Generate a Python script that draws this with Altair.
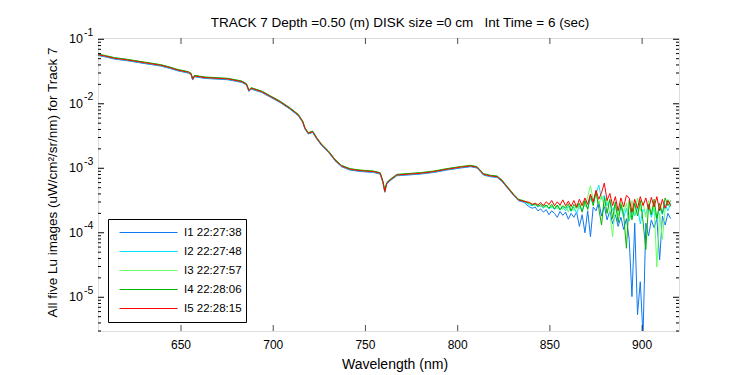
import altair as alt
import pandas as pd

# ---------------- data (log10 of radiance) ----------------
names = ["I1 22:27:38", "I2 22:27:48", "I3 22:27:57", "I4 22:28:06", "I5 22:28:15"]
colors = ["#0f78f0", "#00e5ff", "#66ff66", "#00b400", "#ff0000"]

# shared smooth part of the spectrum (605-836 nm)
smooth_wl = [605, 609, 614, 621, 630, 639, 644, 648, 654, 655.5, 656.3, 657.3, 663, 670,
             675.6, 683, 685.5, 686.8, 688, 693.7, 698, 703.6, 709, 713.6, 716, 717.2, 719,
             721.4, 723.6, 726.3, 730, 733.5, 737, 741.7, 747, 754.4, 758, 759.5, 760.5,
             761.5, 763.4, 767, 772.5, 779.7, 787, 794, 801.5, 807, 810.5, 814, 817.8,
             821.4, 824, 826.8, 830.4, 833, 836]
smooth_log = [-1.239, -1.262, -1.295, -1.321, -1.363, -1.403, -1.440, -1.476, -1.512, -1.538,
              -1.620, -1.569, -1.595, -1.606, -1.616, -1.657, -1.698, -1.797, -1.760, -1.812,
              -1.879, -1.967, -2.070, -2.174, -2.278, -2.380, -2.457, -2.433, -2.535, -2.639,
              -2.743, -2.871, -2.964, -3.016, -3.037, -3.053, -3.078, -3.212, -3.360, -3.233,
              -3.181, -3.104, -3.093, -3.078, -3.053, -3.016, -2.984, -2.964, -2.984, -3.093,
              -3.119, -3.130, -3.192, -3.290, -3.414, -3.491, -3.515]
smooth_offset = [-0.012, -0.005, 0.006, 0.010, 0.0]

# noisy part (837.5-915.5 nm), one list per image
noisy_wl = [837.5, 839, 840.5, 842, 843.5, 845, 846.5, 848, 849.5, 851, 852.5, 854, 855.5,
            857, 858.5, 860, 861.5, 863, 864.5, 866, 867.5, 869, 870.5, 872, 873.5, 875,
            876.5, 878, 879.5, 881, 882.5, 884, 885.5, 887, 888.5, 890, 891.5, 893, 894.5,
            896, 897.5, 899, 900.5, 902, 903.5, 905, 906.5, 908, 909.5, 911, 912.5, 914, 915.5]
noisy_I1 = [-3.57, -3.60, -3.62, -3.60, -3.66, -3.63, -3.68, -3.64, -3.72, -3.66, -3.70, -3.76,
            -3.67, -3.73, -3.68, -3.79, -3.70, -3.76, -3.68, -3.90, -3.72, -4.00, -3.66, -4.06,
            -3.60, -3.66, -3.52, -3.74, -3.58, -3.80, -3.66, -3.86, -3.72, -3.90, -3.76, -3.95,
            -3.78, -4.10, -4.99, -3.85, -5.27, -4.76, -5.60, -3.85, -4.05, -3.80, -3.92, -3.78,
            -4.42, -3.74, -3.88, -3.70, -3.78]
noisy_I2 = [-3.54, -3.57, -3.58, -3.56, -3.60, -3.58, -3.62, -3.57, -3.63, -3.59, -3.64, -3.58,
            -3.65, -3.60, -3.66, -3.59, -3.67, -3.60, -3.70, -3.58, -3.66, -3.55, -3.62, -3.47,
            -3.55, -3.40, -3.26, -3.48, -3.42, -3.58, -3.50, -3.66, -3.56, -3.72, -3.60, -3.76,
            -3.62, -3.82, -3.66, -3.74, -3.60, -3.86, -3.64, -3.70, -3.58, -3.76, -3.62, -3.80,
            -3.60, -3.72, -3.56, -3.66, -3.54]
noisy_I3 = [-3.52, -3.55, -3.54, -3.58, -3.55, -3.60, -3.56, -3.61, -3.55, -3.62, -3.57, -3.63,
            -3.56, -3.64, -3.58, -3.68, -3.57, -3.66, -3.55, -3.63, -3.52, -3.60, -3.44, -3.27,
            -3.50, -3.38, -3.56, -3.42, -3.60, -3.46, -3.70, -4.06, -3.58, -3.74, -3.52, -3.68,
            -3.54, -3.80, -3.50, -3.72, -3.46, -3.66, -3.52, -3.76, -3.50, -3.70, -3.58, -4.53,
            -3.70, -4.10, -3.62, -3.48, -3.60]
noisy_I4 = [-3.53, -3.54, -3.57, -3.55, -3.59, -3.56, -3.60, -3.57, -3.62, -3.56, -3.63, -3.57,
            -3.64, -3.58, -3.62, -3.55, -3.66, -3.56, -3.62, -3.54, -3.68, -3.50, -3.64, -3.42,
            -3.58, -3.36, -3.62, -3.88, -3.45, -3.70, -3.48, -3.78, -3.52, -3.84, -3.56, -3.72,
            -4.24, -3.50, -3.80, -3.54, -3.74, -3.50, -3.82, -4.26, -3.56, -3.72, -3.48, -3.78,
            -3.54, -3.70, -3.46, -3.58, -3.50]
noisy_I5 = [-3.52, -3.53, -3.56, -3.54, -3.57, -3.53, -3.58, -3.52, -3.56, -3.50, -3.58, -3.52,
            -3.57, -3.49, -3.58, -3.51, -3.59, -3.50, -3.60, -3.48, -3.58, -3.46, -3.56, -3.40,
            -3.52, -3.34, -3.48, -3.38, -3.23, -3.50, -3.39, -3.58, -3.44, -3.66, -3.46, -3.60,
            -3.42, -3.46, -3.68, -3.48, -3.62, -3.44, -3.58, -3.46, -3.64, -3.45, -3.60, -3.44,
            -3.66, -3.48, -3.62, -3.50, -3.58]
noisy = [noisy_I1, noisy_I2, noisy_I3, noisy_I4, noisy_I5]

# axis tick values / labels / texts
x_ticks = [650, 700, 750, 800, 850, 900]
y_major = [1e-1, 1e-2, 1e-3, 1e-4, 1e-5]
y_exp = ["-1", "-2", "-3", "-4", "-5"]
y_domain = [3.0e-6, 0.1047]
x_domain = [605, 920]

title_text = "TRACK 7 Depth =0.50 (m) DISK size =0 cm\u00a0\u00a0 Int Time = 6 (sec)"
ytitle = "All five Lu images (uW/cm\u00b2/sr/nm) for Track 7"
xtitle = "Wavelength (nm)"

# ---------------- build tables ----------------
rows = []
for i, nm in enumerate(names):
    for w, l in zip(smooth_wl, smooth_log):
        rows.append({"series": nm, "wl": w, "v": 10 ** (l + smooth_offset[i])})
    for w, l in zip(noisy_wl, noisy[i]):
        rows.append({"series": nm, "wl": w, "v": 10 ** l})
df = pd.DataFrame(rows)

minor = []
for k in range(-6, -1):
    for m in range(2, 10):
        val = m * 10.0 ** k
        if y_domain[0] <= val <= y_domain[1]:
            minor.append(val)
df_major = pd.DataFrame({"v": y_major, "e": y_exp})
df_minor = pd.DataFrame({"v": minor})
df_xt = pd.DataFrame({"t": x_ticks})

W, H = 581, 293
FONT = "Liberation Sans"
xs = alt.Scale(domain=x_domain, nice=False, zero=False)
ys = alt.Scale(type="log", domain=y_domain, nice=False)

lines = alt.Chart(df).mark_line(strokeWidth=1, clip=True).encode(
    x=alt.X("wl:Q", scale=xs, axis=None),
    y=alt.Y("v:Q", scale=ys, axis=None),
    color=alt.Color("series:N", scale=alt.Scale(domain=names, range=colors),
                    legend=alt.Legend(title=None, orient="none", legendX=10, legendY=181,
                                      symbolType="stroke", symbolSize=3364, symbolStrokeWidth=1,
                                      clipHeight=19, rowPadding=0, symbolOffset=7,
                                      labelOffset=6, padding=4, strokeColor="black",
                                      fillColor="white", labelFontSize=11.5, labelFont=FONT,
                                      labelColor="black")),
)

def yrule(data, x1, x2):
    return alt.Chart(data).mark_rule(color="black", strokeWidth=1).encode(
        y=alt.Y("v:Q", scale=ys, axis=None), x=alt.value(x1), x2=alt.value(x2))

def xtick(ypos):
    return alt.Chart(df_xt).mark_tick(color="black", orient="vertical", size=6,
                                      thickness=1).encode(
        x=alt.X("t:Q", scale=xs, axis=None), y=alt.value(ypos))

ticks = [
    yrule(df_major, 0, 6), yrule(df_major, W, W - 6),
    yrule(df_minor, 0, 3), yrule(df_minor, W, W - 3),
    xtick(H - 3), xtick(3),
]

ylab10 = alt.Chart(df_major).mark_text(align="right", baseline="middle", fontSize=12.5,
                                       font=FONT, color="black").encode(
    y=alt.Y("v:Q", scale=ys, axis=None), x=alt.value(-15), text=alt.value("10"))
ylabexp = alt.Chart(df_major).mark_text(align="left", baseline="middle", fontSize=10.5,
                                        font=FONT, color="black", dy=-6.5).encode(
    y=alt.Y("v:Q", scale=ys, axis=None), x=alt.value(-14), text="e:N")
xlab = alt.Chart(df_xt).mark_text(align="center", baseline="alphabetic", fontSize=12,
                                  font=FONT, color="black").encode(
    x=alt.X("t:Q", scale=xs, axis=None), y=alt.value(H + 18), text="t:Q")

xt = alt.Chart(pd.DataFrame({"s": [xtitle]})).mark_text(
    align="center", baseline="alphabetic", fontSize=14, font=FONT, color="black").encode(
    x=alt.value(W / 2 + 6.5), y=alt.value(H + 38), text="s:N")
yt = alt.Chart(pd.DataFrame({"s": [ytitle]})).mark_text(
    align="center", baseline="middle", fontSize=13.5, font=FONT, color="black", angle=270).encode(
    x=alt.value(-45), y=alt.value(H / 2 - 2), text="s:N")
tt = alt.Chart(pd.DataFrame({"s": [title_text]})).mark_text(
    align="center", baseline="alphabetic", fontSize=13.5, font=FONT, color="black").encode(
    x=alt.value(W / 2 + 11.5), y=alt.value(-11.5), text="s:N")

chart = alt.layer(lines, *ticks, ylab10, ylabexp, xlab, xt, yt, tt).properties(
    width=W, height=H,
    autosize=alt.AutoSizeParams(type="none"),
    padding={"left": 90, "top": 30, "right": 62, "bottom": 44},
).configure_view(stroke="black", strokeWidth=1).configure(font=FONT)

chart.save("out.html", embed_options={"renderer": "svg", "actions": False})
